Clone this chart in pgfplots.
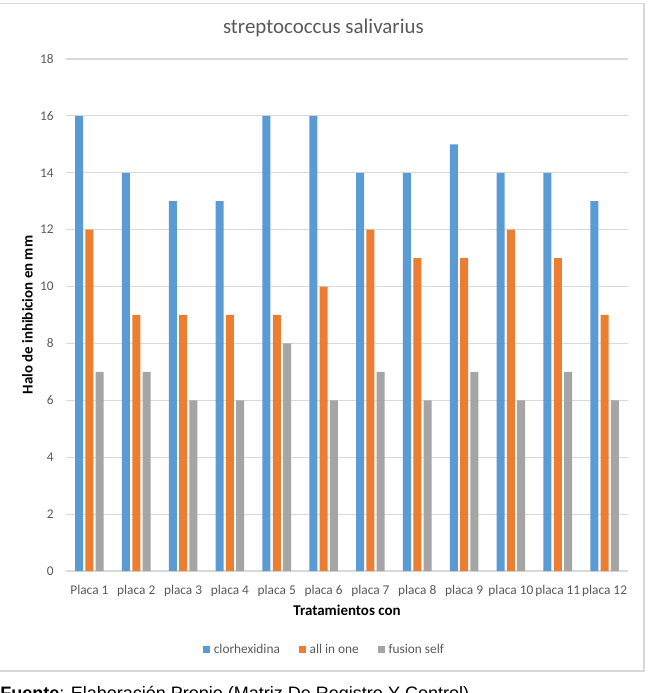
\documentclass[border=0pt]{standalone}
\usepackage{pgfplots}
\pgfplotsset{compat=1.18}
\usepackage{fontspec}
\setmainfont{Carlito}
\newfontfamily\arialfont{Liberation Sans}

\definecolor{serieA}{HTML}{5B9BD5}
\definecolor{serieB}{HTML}{ED7D31}
\definecolor{serieC}{HTML}{A5A5A5}
\definecolor{rejilla}{HTML}{D9D9D9}
\definecolor{textogris}{HTML}{595959}

\pgfplotsset{
  cuadro/.style={legend image code/.code={\fill[##1] (0pt,-2.6pt) rectangle (5.25pt,2.6pt);}},
}

\begin{document}
\begin{tikzpicture}[x=0.75pt,y=0.75pt]
\clip (0,0) rectangle (647,693);
% chart frame
\draw[rejilla, line width=1.1pt] (-5,22) rectangle (644,689.5);

\begin{axis}[
  at={(49.5pt,91.5pt)}, anchor=south west,
  scale only axis,
  width=421.5pt, height=384pt,
  xmin=-0.5, xmax=11.5,
  ymin=0, ymax=18,
  ytick={0,2,...,18},
  xtick=data,
  xticklabels={Placa 1,placa 2,placa 3,placa 4,placa 5,placa 6,placa 7,placa 8,placa 9,placa 10,placa 11,placa 12},
  major tick length=0pt,
  axis line style={draw=none},
  ymajorgrids,
  grid style={rejilla, line width=0.8pt},
  /pgf/number format/assume math mode=true,
  tick label style={font=\fontsize{10}{12}\selectfont, text=textogris, inner sep=0pt},
  xticklabel style={anchor=base, yshift=-17.25pt},
  yticklabel style={anchor=east, xshift=-9pt},
  ybar=1.7pt,
  bar width=6pt,
  title={streptococcus salivarius},
  title style={at={(axis description cs:0.458,1.045)}, anchor=center, font=\fontsize{15.7}{18}\selectfont, text=textogris},
  xlabel={Tratamientos con},
  xlabel style={at={(axis description cs:0.5,-0.0762)}, anchor=center, font=\bfseries\fontsize{11.2}{13}\selectfont},
  ylabel={Halo de inhibicion en mm},
  ylabel style={at={(axis description cs:-0.0685,0.5)}, anchor=center, rotate=0, font=\bfseries\fontsize{11.2}{13}\selectfont},
  legend columns=3,
  legend cell align=left,
  legend style={at={(axis description cs:0.458,-0.154)}, anchor=center, draw=none, fill=none,
    font=\fontsize{10}{12}\selectfont, text=textogris,
    inner sep=0pt, nodes={inner sep=0pt},
    % matrix columns count from 1: odd = swatch, even = text
    /tikz/every odd column/.append style={column sep=3pt},
    /tikz/every even column/.append style={column sep=14pt}},
]
\addplot[fill=serieA, draw=none, cuadro] coordinates {
  (0,16) (1,14) (2,13) (3,13) (4,16) (5,16) (6,14) (7,14) (8,15) (9,14) (10,14) (11,13)};
\addplot[fill=serieB, draw=none, cuadro] coordinates {
  (0,12) (1,9) (2,9) (3,9) (4,9) (5,10) (6,12) (7,11) (8,11) (9,12) (10,11) (11,9)};
\addplot[fill=serieC, draw=none, cuadro] coordinates {
  (0,7) (1,7) (2,6) (3,6) (4,8) (5,6) (6,7) (7,6) (8,7) (9,6) (10,7) (11,6)};
\legend{clorhexidina, all in one, fusion self}
\end{axis}

\node[anchor=base west, inner sep=0pt, font=\arialfont\fontsize{13.5}{16}\selectfont] at (0,-7)
  {\textbf{Fuente}: Elaboración Propio (Matriz De Registro Y Control)};
\end{tikzpicture}
\end{document}
